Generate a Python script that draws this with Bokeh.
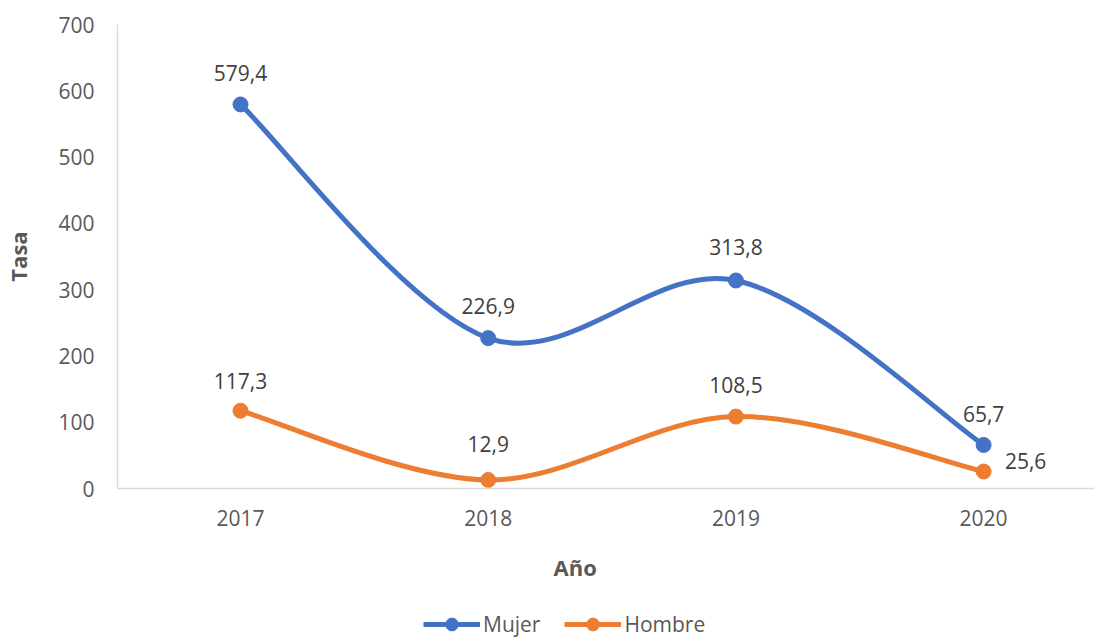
from bokeh.plotting import figure
from bokeh.layouts import column
from bokeh.models import (ColumnDataSource, FixedTicker, Legend, LegendItem, Title,
                          BasicTickFormatter)
from bokeh.core.properties import value
from bokeh.embed import file_html
from bokeh.resources import INLINE

# ---- data ----
years = [2017, 2018, 2019, 2020]
mujer = [579.4, 226.9, 313.8, 65.7]
hombre = [117.3, 12.9, 108.5, 25.6]
y_ticks = [0, 100, 200, 300, 400, 500, 600, 700]
series_names = ["Mujer", "Hombre"]

BLUE = "#4472C4"
ORANGE = "#ED7D31"
TXT = "#595959"
FONT = "Open Sans"


def smooth(xs, ys):
    """Excel-like smoothed line: Catmull-Rom segments as cubic Beziers."""
    n = len(xs)
    d = dict(x0=[], y0=[], x1=[], y1=[], cx0=[], cy0=[], cx1=[], cy1=[])
    for i in range(n - 1):
        a = max(i - 1, 0)
        b = min(i + 2, n - 1)
        d["x0"].append(xs[i]); d["y0"].append(ys[i])
        d["x1"].append(xs[i + 1]); d["y1"].append(ys[i + 1])
        d["cx0"].append(xs[i] + (xs[i + 1] - xs[a]) / 6)
        d["cy0"].append(ys[i] + (ys[i + 1] - ys[a]) / 6)
        d["cx1"].append(xs[i + 1] - (xs[b] - xs[i]) / 6)
        d["cy1"].append(ys[i + 1] - (ys[b] - ys[i]) / 6)
    return ColumnDataSource(d)


p = figure(width=1094, height=608, x_range=(2016.5034, 2020.4477), y_range=(0, 700),
           output_backend="svg", toolbar_location=None,
           min_border_left=117, min_border_right=0, min_border_top=24,
           min_border_bottom=120)
p.outline_line_color = None
p.xgrid.grid_line_color = None
p.ygrid.grid_line_color = None
p.background_fill_color = "white"
p.border_fill_color = "white"

# axes
p.xaxis.ticker = FixedTicker(ticks=years)
p.xaxis.formatter = BasicTickFormatter(use_scientific=False)
p.yaxis.ticker = FixedTicker(ticks=y_ticks)
for ax in (p.xaxis, p.yaxis):
    ax.axis_line_color = "#D9D9D9"
    ax.axis_line_width = 1.5
    ax.major_tick_line_color = None
    ax.minor_tick_line_color = None
    ax.major_label_text_font = FONT
    ax.major_label_text_font_size = "21px"
    ax.major_label_text_color = TXT
p.xaxis.major_label_standoff = 15
p.yaxis.major_label_standoff = 17
p.yaxis.axis_label = "Tasa"
p.yaxis.axis_label_standoff = 22
p.yaxis.axis_label_text_font = FONT
p.yaxis.axis_label_text_font_size = "22px"
p.yaxis.axis_label_text_font_style = "bold"
p.yaxis.axis_label_text_color = TXT

# x-axis title
p.add_layout(Title(text="Año", align="left", offset=436, standoff=42,
                   text_font=FONT, text_font_size="22px", text_font_style="bold",
                   text_color=TXT), "below")

# smoothed lines
p.bezier(x0="x0", y0="y0", x1="x1", y1="y1", cx0="cx0", cy0="cy0", cx1="cx1", cy1="cy1",
         source=smooth(years, mujer), line_color=BLUE, line_width=5, line_cap="round")
p.bezier(x0="x0", y0="y0", x1="x1", y1="y1", cx0="cx0", cy0="cy0", cx1="cx1", cy1="cy1",
         source=smooth(years, hombre), line_color=ORANGE, line_width=5, line_cap="round")
p.scatter(years, mujer, size=15, color=BLUE)
p.scatter(years, hombre, size=15, color=ORANGE)

# data labels
fmt = lambda v: f"{v:.1f}".replace(".", ",")
dx_m = [0, 0, 0, 0]
dy_m = [-31, -32, -33, -31]
dx_h = [0, 0, 0, 42]
dy_h = [-30, -36, -32, -11]
for ys, dx, dy in ((mujer, dx_m, dy_m), (hombre, dx_h, dy_h)):
    src = ColumnDataSource(dict(x=years, y=ys, t=[fmt(v) for v in ys], dx=dx, dy=dy))
    p.text(x="x", y="y", text="t", x_offset="dx", y_offset="dy", source=src,
           text_align="center", text_baseline="middle", text_font=value(FONT),
           text_font_size="21px", text_color="#404040")

# legend strip below the chart (its frame lines up with the chart's frame)
lg = figure(width=1094, height=32, x_range=(0, 1), y_range=(0, 1),
            output_backend="svg", toolbar_location=None,
            x_axis_location=None, y_axis_location=None,
            min_border_left=0, min_border_right=0, min_border_top=0, min_border_bottom=0)
lg.outline_line_color = None
lg.xgrid.grid_line_color = None
lg.ygrid.grid_line_color = None
items = []
for name, ys, col in zip(series_names, (mujer, hombre), (BLUE, ORANGE)):
    # same series, outside this strip's visible range: only their legend glyphs show
    rl = lg.line(years, ys, line_color=col, line_width=5)
    rs = lg.scatter(years, ys, size=15, color=col)
    items.append(LegendItem(label=name, renderers=[rl, rs]))
legend = Legend(items=items, orientation="horizontal", location=(306, 0),
                glyph_width=57, glyph_height=32, label_standoff=3, spacing=24,
                padding=0, margin=0, border_line_alpha=0, background_fill_alpha=0,
                label_text_font=FONT, label_text_font_size="21px", label_text_color=TXT)
lg.add_layout(legend, "center")

layout = column(p, lg, spacing=0)
open("out.html", "w").write(file_html(layout, INLINE))
